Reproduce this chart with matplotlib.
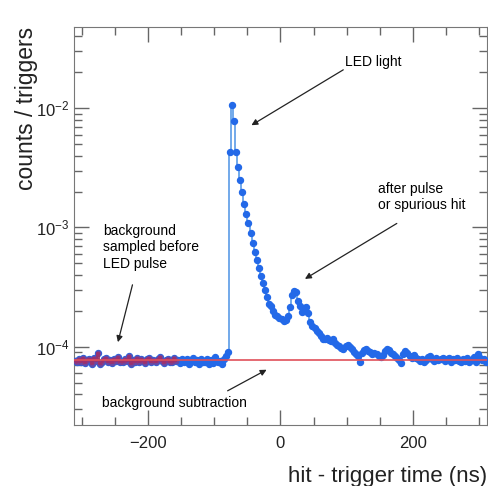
import numpy as np
import matplotlib.pyplot as plt
from matplotlib.ticker import MultipleLocator, LogLocator, NullFormatter

# bin centers: 200 bins of 3.125 ns between -312.5 and 312.5 ns
bin_width = 3.125
t_lo, t_hi = -312.5, 312.5

# counts / triggers, in units of 1e-5
pre_pulse = [
    7.6, 7.4, 7.9, 7.5, 8.1, 7.3, 7.7, 7.8, 7.2, 8.0,
    7.6, 8.9, 7.1, 7.5, 7.9, 8.0, 7.4, 7.7, 7.3, 7.8,
    7.6, 8.2, 7.5, 7.4, 7.9, 7.6, 8.3, 7.2, 7.7, 7.5,
    8.0, 7.4, 7.8, 7.6, 7.3, 7.9, 8.1, 7.5, 7.7, 7.4,
    7.8, 8.2, 7.6, 7.3, 7.7, 7.9, 7.5, 7.4, 8.0, 7.6,
    7.7, 7.3, 7.8, 7.5, 7.9, 7.2, 7.6, 8.0, 7.4, 7.7,
    7.1, 7.8, 7.5, 7.4, 7.9, 7.2, 7.7, 7.3, 8.2, 7.5,
    7.6, 7.1, 7.9, 8.4, 9.0,
]
led_pulse = [
    430, 1070, 780, 430, 320, 250, 199, 158, 129, 109,
    89.5, 74, 62, 53, 46, 39.5, 34, 29.6, 26, 23,
    22, 20, 18.5, 18, 17.5,
]
tail = [
    17, 16.5, 16.8, 18, 21.5, 27, 29.5, 28.5, 24, 22,
    19.5, 21, 21.5, 19, 16, 15, 14.2, 13.6, 13, 12.2,
    11.5, 11.6, 11.8, 11.4, 11.2, 11.5, 10.8, 10.4, 10.2, 9.8,
    9.6, 10.1, 10.3, 10.0, 9.5, 9.0, 8.6, 8.3, 7.4, 8.9,
    9.3, 9.6, 9.2, 9.0, 8.7, 8.8, 8.6, 8.4, 8.2, 8.5,
    9.2, 9.5, 9.3, 8.9, 8.7, 8.4, 8.0, 7.7, 7.3, 8.6,
    9.2, 8.8, 8.4, 8.1, 8.5, 8.0, 7.8, 7.6, 7.9, 7.5,
    7.7, 8.2, 8.3, 7.9, 7.6, 8.0, 7.7, 7.9, 8.1, 7.6,
    7.8, 8.0, 7.5, 7.9, 7.7, 8.1, 7.6, 7.4, 7.8, 7.6,
    8.0, 7.4, 7.7, 8.2, 7.5, 8.6, 8.1, 7.7, 7.9, 7.5,
]
background_level = 7.7e-5
sample_end = -155.0  # background sampling window ends here (ns)

counts = np.array(pre_pulse + led_pulse + tail) * 1e-5
t = t_lo + bin_width * (np.arange(len(counts)) + 0.5)

plt.rcParams['font.family'] = ['Liberation Sans', 'DejaVu Sans']

fig = plt.figure(figsize=(4.89, 4.86), dpi=100)
ax = fig.add_axes([0.1513, 0.1255, 0.8446, 0.8189])

ax.plot(t, counts, drawstyle='steps-mid', color='#5a9be6', lw=1.2, zorder=2)
ax.plot(t, counts, 'o', color='#2369e8', ms=4.3, mec='#2369e8', zorder=3)

# sampled background overlay
sel = t < sample_end
ax.plot(t[sel], counts[sel], drawstyle='steps-mid', color='#c0203a', lw=1.4,
        alpha=0.7, zorder=4)
ax.plot(t[sel], counts[sel], 'o', color='#a03070', ms=4.3, alpha=0.55,
        mec='none', zorder=4)
ax.axhline(background_level, color='#e0505a', lw=1.2, zorder=5)

ax.set_yscale('log')
ax.set_xlim(t_lo, t_hi)
ax.set_ylim(2.2e-5, 4.8e-2)

ax.xaxis.set_major_locator(MultipleLocator(200))
ax.xaxis.set_minor_locator(MultipleLocator(50))
ax.yaxis.set_major_locator(LogLocator(base=10))
ax.yaxis.set_minor_locator(LogLocator(base=10, subs=np.arange(2, 10)))
ax.yaxis.set_minor_formatter(NullFormatter())
ax.tick_params(which='both', direction='in', top=True, right=True,
               colors='#666666', labelcolor='#222222', labelsize=12)
ax.tick_params(which='major', length=11, width=1)
ax.tick_params(which='minor', length=5.5, width=1)
ax.tick_params(axis='x', pad=8)
for s in ax.spines.values():
    s.set_color('#777777')

ax.set_xlabel('hit - trigger time (ns)', fontsize=16, color='#222222',
              loc='right', labelpad=11)
ax.set_ylabel('counts / triggers', fontsize=16.5, color='#222222',
              loc='top', labelpad=-2)

arrow = dict(arrowstyle='-|>', color='#222222', lw=0.9, mutation_scale=9,
             shrinkA=0, shrinkB=0)
ax.annotate('', xy=(-44, 7.2e-3), xytext=(95, 2.1e-2), arrowprops=arrow)
ax.text(140, 2.44e-2, 'LED light', fontsize=10, ha='center', va='center')
ax.annotate('', xy=(37, 3.7e-4), xytext=(176, 1.08e-3), arrowprops=arrow)
ax.text(147, 1.79e-3, 'after pulse\nor spurious hit', fontsize=10,
        ha='left', va='center', linespacing=1.2)
ax.annotate('', xy=(-246, 1.09e-4), xytext=(-224, 3.3e-4), arrowprops=arrow)
ax.text(-269, 6.8e-4, 'background\nsampled before\nLED pulse', fontsize=10,
        ha='left', va='center', linespacing=1.2)
ax.annotate('', xy=(-21, 6.4e-5), xytext=(-80, 4.26e-5), arrowprops=arrow)
ax.text(-160, 3.38e-5, 'background subtraction', fontsize=10,
        ha='center', va='center')

fig.savefig('out.png', dpi=100)
